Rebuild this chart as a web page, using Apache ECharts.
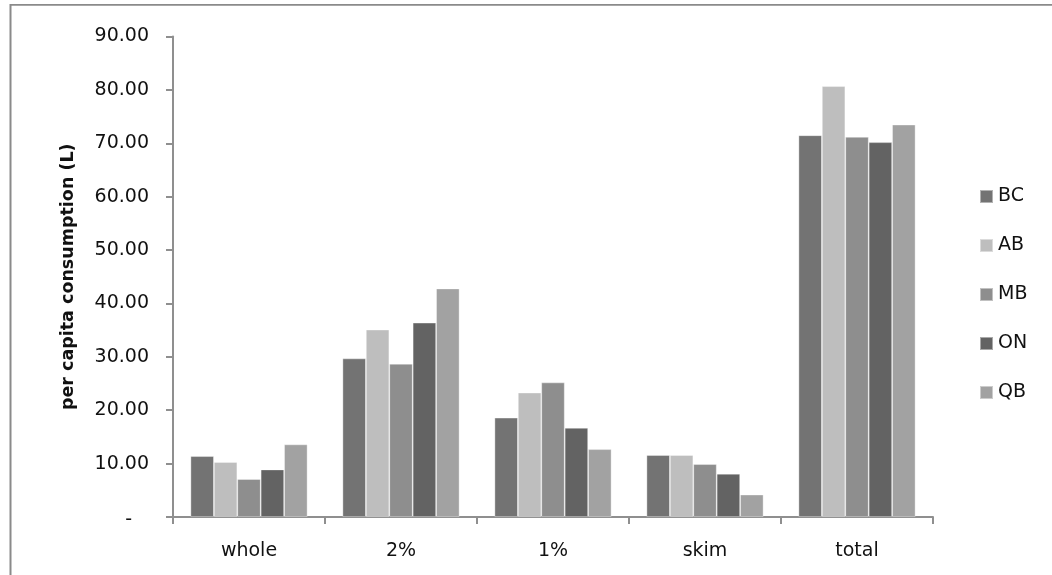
<!DOCTYPE html>
<html>
<head>
<meta charset="utf-8">
<script src="https://cdn.jsdelivr.net/npm/echarts@6/dist/echarts.min.js"></script>
<style>
  html, body { margin: 0; padding: 0; background: #ffffff; }
  #chart { width: 1052px; height: 575px; }
</style>
</head>
<body>
<div id="chart"></div>
<script>
// Milk types along the x axis
const categories = ['whole', '2%', '1%', 'skim', 'total'];

// Per capita consumption (litres) by province
const BC = [11.4, 29.7, 18.6, 11.6, 71.5];
const AB = [10.3, 35.1, 23.3, 11.6, 80.7];
const MB = [7.1, 28.7, 25.2, 9.9, 71.2];
const ON = [8.9, 36.4, 16.7, 8.1, 70.2];
const QB = [13.6, 42.8, 12.7, 4.2, 73.5];

const provinces = [
  { name: 'BC', data: BC, color: '#737373' },
  { name: 'AB', data: AB, color: '#bebebe' },
  { name: 'MB', data: MB, color: '#8e8e8e' },
  { name: 'ON', data: ON, color: '#636363' },
  { name: 'QB', data: QB, color: '#a2a2a2' }
];

const FONT = 'DejaVu Sans';
const TEXT = '#111111';
const AXIS = '#8f8f8f';

const chart = echarts.init(document.getElementById('chart'), null, { renderer: 'canvas' });

chart.setOption({
  backgroundColor: '#ffffff',
  animation: false,
  grid: { left: 173, right: 119, top: 36.5, bottom: 58, containLabel: false },
  legend: {
    orient: 'vertical',
    left: 979,
    top: 187,
    padding: 0,
    itemWidth: 13,
    itemHeight: 13,
    itemGap: 30,
    icon: 'rect',
    textStyle: { fontFamily: FONT, fontSize: 19, color: TEXT, lineHeight: 19 },
    data: provinces.map(p => p.name)
  },
  xAxis: {
    type: 'category',
    data: categories,
    boundaryGap: true,
    axisLine: { show: true, lineStyle: { color: AXIS, width: 2 } },
    axisTick: { show: true, length: 7, lineStyle: { color: AXIS, width: 2 } },
    axisLabel: { margin: 25, fontFamily: FONT, fontSize: 19, color: TEXT }
  },
  yAxis: {
    type: 'value',
    min: 0,
    max: 90,
    interval: 10,
    splitLine: { show: false },
    axisLine: { show: true, lineStyle: { color: AXIS, width: 2 } },
    axisTick: { show: true, length: 7, lineStyle: { color: AXIS, width: 2 } },
    axisLabel: {
      margin: 24,
      fontFamily: FONT,
      fontSize: 19,
      color: TEXT,
      formatter: v => v === 0 ? '{d|-}' : v.toFixed(2),
      rich: { d: { fontFamily: FONT, fontSize: 19, color: TEXT, padding: [6, 17, 0, 0] } }
    },
    name: 'per capita consumption (L)',
    nameLocation: 'middle',
    nameGap: 96,
    nameTextStyle: { fontFamily: FONT, fontSize: 17.5, fontWeight: 'bold', color: TEXT }
  },
  series: provinces.map(p => ({
    name: p.name,
    type: 'bar',
    data: p.data,
    barGap: '0%',
    barCategoryGap: '23%',
    itemStyle: { color: p.color, borderColor: 'rgba(255,255,255,0.45)', borderWidth: 0.8 }
  })),
  graphic: [
    // frame lines along the top and left edges
    { type: 'line', shape: { x1: 10, y1: 4.8, x2: 1052, y2: 4.8 }, style: { stroke: '#8a8a8a', lineWidth: 1.8 }, silent: true },
    { type: 'line', shape: { x1: 10.5, y1: 4, x2: 10.5, y2: 575 }, style: { stroke: '#8a8a8a', lineWidth: 2 }, silent: true }
  ]
});
</script>
</body>
</html>
